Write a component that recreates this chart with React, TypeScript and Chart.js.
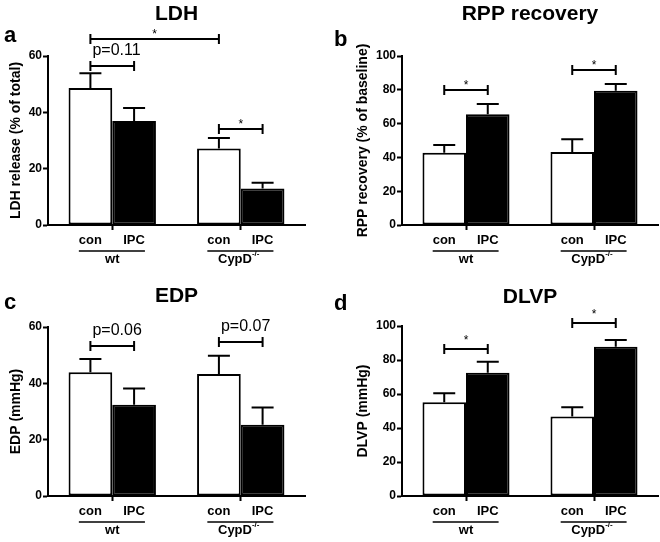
import React, { useEffect, useRef } from 'react';
import { Chart, registerables } from 'chart.js';

Chart.register(...registerables);

const FONT = "'Liberation Sans', Arial, Helvetica, sans-serif";

// categories and series
const groups = ['wt', 'CypD'];
const groupSup = ['', '-/-'];
const treatments = ['con', 'IPC'];

// LDH release (% of total)
const ldhCon = [48.6, 27.2];
const ldhConErr = [5.3, 3.7];
const ldhIpc = [36.9, 13.0];
const ldhIpcErr = [4.6, 2.0];
const ldhTicks = [0, 20, 40, 60];

// RPP recovery (% of baseline)
const rppCon = [42.8, 43.2];
const rppConErr = [4.5, 7.5];
const rppIpc = [65.5, 79.5];
const rppIpcErr = [6.1, 3.9];
const rppTicks = [0, 20, 40, 60, 80, 100];

// EDP (mmHg)
const edpCon = [43.9, 43.3];
const edpConErr = [4.7, 6.5];
const edpIpc = [32.4, 25.3];
const edpIpcErr = [5.8, 6.1];
const edpTicks = [0, 20, 40, 60];

// DLVP (mmHg)
const dlvpCon = [55.1, 46.7];
const dlvpConErr = [5.3, 5.5];
const dlvpIpc = [72.5, 87.8];
const dlvpIpcErr = [6.5, 4.0];
const dlvpTicks = [0, 20, 40, 60, 80, 100];

// significance brackets: [dataset, category] -> [dataset, category], level, label
const ldhBrackets = [
  { from: [0, 0], to: [0, 1], level: 66.0, label: '*' },
  { from: [0, 0], to: [1, 0], level: 56.4, label: 'p=0.11' },
  { from: [0, 1], to: [1, 1], level: 34.1, label: '*' },
];
const rppBrackets = [
  { from: [0, 0], to: [1, 0], level: 79.9, label: '*' },
  { from: [0, 1], to: [1, 1], level: 91.7, label: '*' },
];
const edpBrackets = [
  { from: [0, 0], to: [1, 0], level: 53.3, label: 'p=0.06' },
  { from: [0, 1], to: [1, 1], level: 54.8, label: 'p=0.07' },
];
const dlvpBrackets = [
  { from: [0, 0], to: [1, 0], level: 86.5, label: '*' },
  { from: [0, 1], to: [1, 1], level: 102.0, label: '*' },
];

type PanelCfg = {
  letter: string;
  title: string;
  yTitle: string;
  con: number[];
  conErr: number[];
  ipc: number[];
  ipcErr: number[];
  ticks: number[];
  brackets: { from: number[]; to: number[]; level: number; label: string }[];
  left: number;
  top: number;
  axisWidth: number;
  rightPad: number;
  topPad: number;
  yTitlePad: number;
  titleY: number;
  letterY: number;
  starGap: number;
};

const panels: PanelCfg[] = [
  {
    letter: 'a', title: 'LDH', yTitle: 'LDH release (% of total)',
    con: ldhCon, conErr: ldhConErr, ipc: ldhIpc, ipcErr: ldhIpcErr, ticks: ldhTicks, brackets: ldhBrackets,
    left: 0, top: 0, axisWidth: 48, rightPad: 25, topPad: 56, yTitlePad: 8, titleY: 20, letterY: 42, starGap: 1,
  },
  {
    letter: 'b', title: 'RPP recovery', yTitle: 'RPP recovery (% of baseline)',
    con: rppCon, conErr: rppConErr, ipc: rppIpc, ipcErr: rppIpcErr, ticks: rppTicks, brackets: rppBrackets,
    left: 330, top: 0, axisWidth: 72, rightPad: 2, topPad: 56, yTitlePad: 25, titleY: 20, letterY: 46, starGap: 1,
  },
  {
    letter: 'c', title: 'EDP', yTitle: 'EDP (mmHg)',
    con: edpCon, conErr: edpConErr, ipc: edpIpc, ipcErr: edpIpcErr, ticks: edpTicks, brackets: edpBrackets,
    left: 0, top: 271, axisWidth: 48, rightPad: 25, topPad: 56, yTitlePad: 8, titleY: 31, letterY: 38, starGap: 1,
  },
  {
    letter: 'd', title: 'DLVP', yTitle: 'DLVP (mmHg)',
    con: dlvpCon, conErr: dlvpConErr, ipc: dlvpIpc, ipcErr: dlvpIpcErr, ticks: dlvpTicks, brackets: dlvpBrackets,
    left: 330, top: 271, axisWidth: 72, rightPad: 2, topPad: 55, yTitlePad: 25, titleY: 32, letterY: 39, starGap: 5,
  },
];

const annotPlugin = {
  id: 'annot',
  afterDraw(chart: any, _args: any, opts: any) {
    const cfg: PanelCfg = opts.cfg;
    if (!cfg) return;
    const { ctx, chartArea } = chart;
    const xs = chart.scales.x;
    const ys = chart.scales.y;
    const metas = [chart.getDatasetMeta(0), chart.getDatasetMeta(1)];
    const errs = [cfg.conErr, cfg.ipcErr];
    ctx.save();
    ctx.strokeStyle = '#000';
    ctx.fillStyle = '#000';
    ctx.lineWidth = 2;
    ctx.lineCap = 'butt';

    // error bars (upper only)
    errs.forEach((arr, di) => {
      arr.forEach((e, ci) => {
        const bar = metas[di].data[ci];
        const v = chart.data.datasets[di].data[ci] as number;
        const yTop = ys.getPixelForValue(v + e);
        ctx.beginPath();
        ctx.moveTo(bar.x, bar.y);
        ctx.lineTo(bar.x, yTop);
        ctx.moveTo(bar.x - 11, yTop);
        ctx.lineTo(bar.x + 11, yTop);
        ctx.stroke();
      });
    });

    // significance brackets
    cfg.brackets.forEach((b) => {
      const xa = metas[b.from[0]].data[b.from[1]].x;
      const xb = metas[b.to[0]].data[b.to[1]].x;
      const yy = Math.round(ys.getPixelForValue(b.level));
      ctx.lineWidth = 2;
      ctx.beginPath();
      ctx.moveTo(xa, yy);
      ctx.lineTo(xb, yy);
      ctx.moveTo(xa, yy - 5);
      ctx.lineTo(xa, yy + 5);
      ctx.moveTo(xb, yy - 5);
      ctx.lineTo(xb, yy + 5);
      ctx.stroke();
      ctx.textBaseline = 'alphabetic';
      if (b.label === '*') {
        ctx.font = `12px ${FONT}`;
        ctx.textAlign = 'center';
        ctx.fillText(b.label, (xa + xb) / 2, yy - cfg.starGap);
      } else {
        ctx.font = `16px ${FONT}`;
        ctx.textAlign = 'left';
        ctx.fillText(b.label, xa + 2, yy - 11);
      }
    });

    // x labels: treatments, underline, group
    groups.forEach((g, ci) => {
      ctx.font = `bold 13px ${FONT}`;
      ctx.textAlign = 'center';
      ctx.textBaseline = 'alphabetic';
      let l = Infinity;
      let r = -Infinity;
      treatments.forEach((t, di) => {
        const bar = metas[di].data[ci];
        const w = ctx.measureText(t).width;
        ctx.fillText(t, bar.x, chartArea.bottom + 19);
        l = Math.min(l, bar.x - w / 2);
        r = Math.max(r, bar.x + w / 2);
      });
      ctx.lineWidth = 1.5;
      ctx.beginPath();
      ctx.moveTo(l, chartArea.bottom + 26);
      ctx.lineTo(r, chartArea.bottom + 26);
      ctx.stroke();
      const xc = xs.getPixelForValue(ci);
      const w1 = ctx.measureText(g).width;
      ctx.font = `bold 8px ${FONT}`;
      const sup = groupSup[ci];
      const w2 = sup ? ctx.measureText(sup).width : 0;
      const start = xc - (w1 + w2) / 2 - (sup ? 2 : 0);
      ctx.textAlign = 'left';
      ctx.font = `bold 13px ${FONT}`;
      ctx.fillText(g, start, chartArea.bottom + 38);
      if (sup) {
        ctx.font = `bold 8px ${FONT}`;
        ctx.fillText(sup, start + w1, chartArea.bottom + 31);
      }
    });

    // title and panel letter
    ctx.font = `bold 21px ${FONT}`;
    ctx.textAlign = 'center';
    ctx.fillText(cfg.title, (chartArea.left + chartArea.right) / 2, cfg.titleY);
    ctx.font = `bold 22px ${FONT}`;
    ctx.textAlign = 'left';
    ctx.fillText(cfg.letter, 4, cfg.letterY);
    ctx.restore();
  },
};

function Panel({ cfg }: { cfg: PanelCfg }) {
  const ref = useRef<HTMLCanvasElement>(null);
  useEffect(() => {
    if (!ref.current) return;
    const tMax = cfg.ticks[cfg.ticks.length - 1];
    const step = cfg.ticks[1] - cfg.ticks[0];
    const chart = new Chart(ref.current, {
      type: 'bar',
      data: {
        labels: groups,
        datasets: [
          {
            label: treatments[0],
            data: cfg.con,
            backgroundColor: '#ffffff',
            borderColor: '#000000',
            borderWidth: 2,
            borderSkipped: false,
            barPercentage: 1,
            categoryPercentage: 0.68,
          },
          {
            label: treatments[1],
            data: cfg.ipc,
            backgroundColor: '#000000',
            borderColor: '#000000',
            borderWidth: 2,
            borderSkipped: false,
            barPercentage: 1,
            categoryPercentage: 0.68,
          },
        ],
      },
      options: {
        responsive: false,
        animation: false,
        devicePixelRatio: 1,
        layout: { padding: { left: 0, right: cfg.rightPad, top: cfg.topPad, bottom: 0 } },
        plugins: {
          legend: { display: false },
          tooltip: { enabled: false },
          annot: { cfg },
        } as any,
        scales: {
          x: {
            offset: true,
            grid: {
              display: true,
              drawOnChartArea: false,
              drawTicks: true,
              tickLength: 5,
              tickColor: '#000',
              tickWidth: 2,
              offset: false,
            },
            border: { display: true, color: '#000', width: 2 },
            ticks: { display: false },
            afterFit: (s: any) => {
              s.height = 46;
            },
          },
          y: {
            min: 0,
            max: tMax,
            grid: {
              display: true,
              drawOnChartArea: false,
              drawTicks: true,
              tickLength: 5,
              tickColor: '#000',
              tickWidth: 2,
            },
            border: { display: true, color: '#000', width: 2 },
            ticks: {
              stepSize: step,
              color: '#000',
              padding: 1,
              font: { family: FONT, size: 12, weight: 'bold' },
            },
            title: {
              display: true,
              text: cfg.yTitle,
              color: '#000',
              font: { family: FONT, size: 14, weight: 'bold' },
              padding: { top: cfg.yTitlePad, bottom: 0 },
            },
            afterFit: (s: any) => {
              s.width = cfg.axisWidth;
            },
          },
        },
      },
      plugins: [annotPlugin],
    });
    return () => chart.destroy();
  }, [cfg]);
  return (
    <canvas
      ref={ref}
      width={330}
      height={271}
      style={{ position: 'absolute', left: cfg.left, top: cfg.top, width: 330, height: 271 }}
    />
  );
}

export default function App() {
  return (
    <div style={{ position: 'absolute', left: 0, top: 0, width: 660, height: 542, background: '#fff' }}>
      {panels.map((p) => (
        <Panel key={p.letter} cfg={p} />
      ))}
    </div>
  );
}
